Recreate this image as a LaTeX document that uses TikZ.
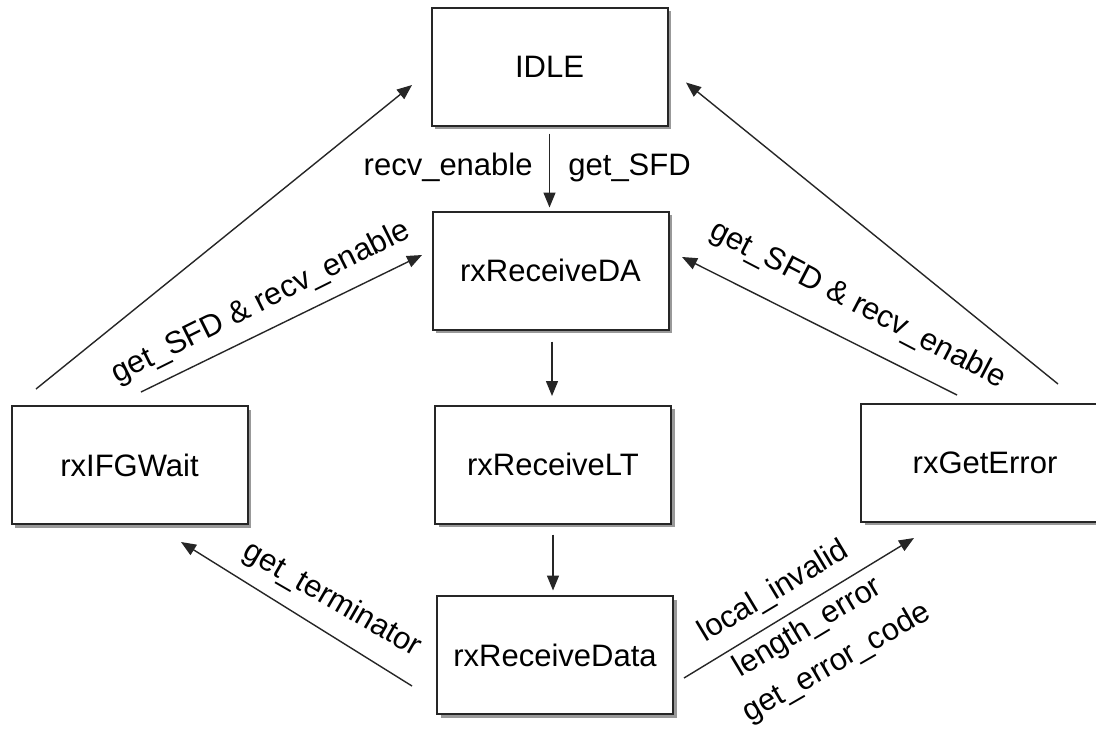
\documentclass[tikz,border=0pt]{standalone}
\usepackage{fontspec}
\setmainfont{Liberation Sans}
\usetikzlibrary{arrows.meta,shadows}
\begin{document}
\begin{tikzpicture}[x=0.5pt,y=-0.5pt,
  state/.style={draw=black!85, line width=1pt, fill=white,
    minimum width=118pt, minimum height=59pt, inner sep=0pt,
    font=\fontsize{15.5}{18}\selectfont,
    general shadow={fill=black!40, shadow xshift=1.75pt, shadow yshift=-1.75pt}},
  arr/.style={line width=0.7pt, draw=black!85, -{Triangle[length=7.5pt,width=6pt]}},
  lbl/.style={font=\fontsize{15.5}{18}\selectfont, inner sep=0pt}]
\useasboundingbox (0,0) rectangle (1096,728);
\fill[white] (0,0) rectangle (1096,728);

% states
\node[state] (idle) at (549.5,66.5) {IDLE};
\node[state] (da)   at (550.5,270.5) {rxReceiveDA};
\node[state] (lt)   at (553,464.5) {rxReceiveLT};
\node[state] (data) at (555,655) {rxReceiveData};
\node[state] (ifg)  at (129.5,465) {rxIFGWait};
\node[state, minimum width=124pt, text width=118pt, align=center, xshift=-1pt] (err) at (987,462.5) {rxGetError};

% vertical transitions
\draw[arr] ([shift={(0,7)}]idle.south) -- ([shift={(-1,-3)}]da.north);
\draw[arr] ([shift={(1.5,11)}]da.south) -- ([shift={(-1,-8.5)}]lt.north);
\draw[arr] ([shift={(0,10)}]lt.south) -- ([shift={(-2,-4.5)}]data.north);

% left side
\draw[arr] ([shift={(25.5,-16)}]ifg.north west) -- ([shift={(-18.5,18.5)}]idle.west);
\draw[arr] ([shift={(130.5,-13)}]ifg.north west) -- ([shift={(-9.5,-15.5)}]da.west);
\draw[arr] ([shift={(-24,31)}]data.west) -- ([shift={(170.5,17)}]ifg.south west);

% right side
\draw[arr] ([shift={(198,-18.5)}]err.north west) -- ([shift={(17.5,16)}]idle.east);
\draw[arr] ([shift={(97,-7.5)}]err.north west) -- ([shift={(12.5,-13.5)}]da.east);
\draw[arr] ([shift={(10,23)}]data.east) -- ([shift={(54,15.5)}]err.south west);

% labels
\node[lbl, anchor=base east] (l1) at (533,175) {recv\_enable};
\node[lbl, anchor=base west] (l2) at (568,175) {get\_SFD};
\node[lbl, rotate=26.5] (l3) at (261,303) {get\_SFD \& recv\_enable};
\node[lbl, rotate=-27.5] (l4) at (858,305) {get\_SFD \& recv\_enable};
\node[lbl, rotate=-30] (l5) at (332,600) {get\_terminator};
\node[lbl, rotate=31] (l6) at (774,592) {local\_invalid};
\node[lbl, rotate=31] (l7) at (808,628) {length\_error};
\node[lbl, rotate=30] (l8) at (837,663) {get\_error\_code};
\end{tikzpicture}
\end{document}
